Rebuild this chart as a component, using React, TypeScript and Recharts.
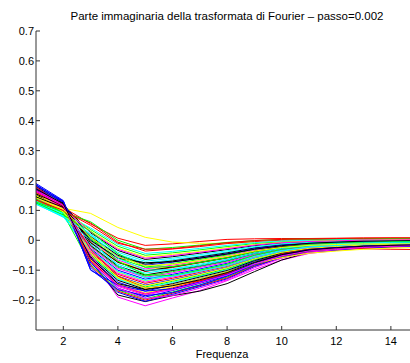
import React from 'react'
import { LineChart, Line, XAxis, YAxis } from 'recharts'

// frequency index on the x axis
const freqs = [1, 2, 3, 4, 5, 6, 7, 8, 9, 10, 11, 12, 13, 14, 15]

const xTicks = [2, 4, 6, 8, 10, 12, 14]
const yTicks = [-0.2, -0.1, 0, 0.1, 0.2, 0.3, 0.4, 0.5, 0.6, 0.7]

// MATLAB default colour cycle: b g r c m y k
const palette = ['#0000ff', '#00ff00', '#ff0000', '#00ffff', '#ff00ff', '#ffff00', '#000000']

// imaginary part, one row per run
const runs: number[][] = [
  [0.150, 0.092, -0.028, -0.100, -0.130, -0.114, -0.096, -0.077, -0.051, -0.033, -0.021, -0.017, -0.012, -0.010, -0.009],
  [0.140, 0.112, 0.004, -0.060, -0.090, -0.078, -0.064, -0.049, -0.031, -0.019, -0.012, -0.008, -0.005, -0.004, -0.003],
  [0.140, 0.110, 0.055, 0.007, -0.017, -0.012, -0.004, 0.003, 0.005, 0.006, 0.006, 0.007, 0.008, 0.008, 0.008],
  [0.128, 0.080, -0.012, -0.080, -0.110, -0.096, -0.080, -0.063, -0.041, -0.026, -0.017, -0.012, -0.009, -0.007, -0.006],
  [0.170, 0.120, -0.060, -0.190, -0.219, -0.193, -0.168, -0.135, -0.098, -0.066, -0.044, -0.034, -0.027, -0.023, -0.020],
  [0.130, 0.107, 0.090, 0.043, 0.010, -0.006, -0.010, -0.010, -0.008, -0.006, -0.004, -0.002, 0.000, 0.001, 0.002],
  [0.180, 0.125, -0.070, -0.183, -0.205, -0.185, -0.170, -0.145, -0.105, -0.066, -0.040, -0.030, -0.024, -0.020, -0.018],
  [0.175, 0.128, -0.060, -0.140, -0.170, -0.150, -0.128, -0.105, -0.071, -0.047, -0.032, -0.025, -0.020, -0.017, -0.015],
  [0.134, 0.100, 0.036, -0.020, -0.050, -0.042, -0.032, -0.021, -0.011, -0.005, -0.002, 0.001, 0.002, 0.003, 0.004],
  [0.148, 0.095, -0.039, -0.114, -0.144, -0.127, -0.107, -0.087, -0.058, -0.037, -0.025, -0.020, -0.015, -0.012, -0.011],
  [0.125, 0.085, 0.015, -0.046, -0.076, -0.065, -0.053, -0.039, -0.024, -0.014, -0.008, -0.005, -0.002, -0.001, 0.000],
  [0.160, 0.100, -0.071, -0.154, -0.184, -0.163, -0.139, -0.115, -0.078, -0.051, -0.035, -0.028, -0.022, -0.019, -0.017],
  [0.150, 0.115, -0.004, -0.070, -0.100, -0.087, -0.072, -0.056, -0.036, -0.022, -0.014, -0.010, -0.007, -0.005, -0.004],
  [0.145, 0.118, 0.025, -0.034, -0.064, -0.055, -0.043, -0.031, -0.018, -0.009, -0.005, -0.002, 0.000, 0.001, 0.001],
  [0.182, 0.131, -0.076, -0.160, -0.190, -0.168, -0.144, -0.119, -0.081, -0.054, -0.037, -0.030, -0.023, -0.020, -0.018],
  [0.142, 0.090, -0.020, -0.090, -0.120, -0.105, -0.088, -0.070, -0.046, -0.029, -0.019, -0.015, -0.011, -0.009, -0.007],
  [0.130, 0.098, 0.058, -0.006, -0.036, -0.029, -0.021, -0.011, -0.004, 0.000, 0.002, 0.004, 0.005, 0.005, 0.006],
  [0.130, 0.082, -0.052, -0.130, -0.160, -0.141, -0.120, -0.098, -0.066, -0.043, -0.029, -0.023, -0.018, -0.015, -0.013],
  [0.155, 0.112, -0.001, -0.066, -0.096, -0.083, -0.069, -0.053, -0.034, -0.021, -0.013, -0.009, -0.006, -0.005, -0.003],
  [0.152, 0.104, -0.033, -0.106, -0.136, -0.119, -0.101, -0.081, -0.054, -0.035, -0.023, -0.018, -0.013, -0.011, -0.009],
  [0.150, 0.120, 0.012, -0.050, -0.080, -0.069, -0.056, -0.042, -0.026, -0.015, -0.009, -0.006, -0.003, -0.002, -0.001],
  [0.172, 0.122, -0.044, -0.120, -0.150, -0.132, -0.112, -0.091, -0.061, -0.040, -0.027, -0.021, -0.016, -0.013, -0.012],
  [0.150, 0.088, -0.081, -0.166, -0.196, -0.173, -0.149, -0.123, -0.084, -0.056, -0.038, -0.031, -0.025, -0.021, -0.018],
  [0.160, 0.116, -0.007, -0.074, -0.104, -0.091, -0.075, -0.059, -0.038, -0.023, -0.015, -0.011, -0.008, -0.006, -0.005],
  [0.124, 0.090, 0.041, -0.014, -0.044, -0.037, -0.027, -0.017, -0.008, -0.002, 0.000, 0.002, 0.004, 0.004, 0.004],
  [0.162, 0.098, -0.036, -0.110, -0.140, -0.123, -0.104, -0.084, -0.056, -0.036, -0.024, -0.019, -0.014, -0.012, -0.010],
  [0.158, 0.106, -0.065, -0.146, -0.176, -0.155, -0.133, -0.109, -0.074, -0.049, -0.033, -0.027, -0.021, -0.018, -0.015],
  [0.160, 0.124, -0.017, -0.086, -0.116, -0.101, -0.085, -0.067, -0.044, -0.028, -0.018, -0.014, -0.010, -0.008, -0.006],
  [0.165, 0.120, 0.009, -0.054, -0.084, -0.073, -0.059, -0.045, -0.028, -0.016, -0.010, -0.007, -0.004, -0.003, -0.002],
  [0.145, 0.094, -0.049, -0.126, -0.156, -0.137, -0.117, -0.095, -0.064, -0.042, -0.028, -0.022, -0.017, -0.014, -0.012],
  [0.178, 0.115, -0.084, -0.170, -0.200, -0.177, -0.152, -0.126, -0.086, -0.057, -0.039, -0.032, -0.026, -0.022, -0.019],
  [0.130, 0.092, 0.020, -0.040, -0.070, -0.060, -0.048, -0.035, -0.021, -0.012, -0.007, -0.004, -0.001, 0.000, 0.001],
  [0.156, 0.108, -0.023, -0.094, -0.124, -0.109, -0.091, -0.073, -0.048, -0.030, -0.020, -0.015, -0.011, -0.009, -0.008],
  [0.136, 0.105, 0.031, -0.026, -0.056, -0.047, -0.037, -0.025, -0.014, -0.007, -0.003, -0.001, 0.001, 0.002, 0.003],
  [0.168, 0.112, -0.055, -0.134, -0.164, -0.145, -0.123, -0.101, -0.068, -0.044, -0.030, -0.024, -0.019, -0.016, -0.014],
  [0.186, 0.128, -0.090, -0.174, -0.204, -0.181, -0.155, -0.129, -0.088, -0.058, -0.040, -0.033, -0.026, -0.022, -0.020],
  [0.128, 0.094, 0.062, 0.000, -0.030, -0.024, -0.016, -0.007, -0.001, 0.003, 0.004, 0.005, 0.006, 0.006, 0.007],
  [0.165, 0.110, -0.068, -0.150, -0.180, -0.159, -0.136, -0.112, -0.076, -0.050, -0.034, -0.027, -0.022, -0.018, -0.016],
  [0.126, 0.078, -0.031, -0.104, -0.134, -0.118, -0.099, -0.080, -0.053, -0.034, -0.023, -0.018, -0.013, -0.011, -0.009],
  [0.140, 0.104, 0.028, -0.030, -0.060, -0.051, -0.040, -0.028, -0.016, -0.008, -0.004, -0.002, 0.001, 0.001, 0.002],
  [0.160, 0.100, -0.046, -0.122, -0.152, -0.134, -0.114, -0.092, -0.062, -0.040, -0.027, -0.021, -0.016, -0.014, -0.012],
  [0.155, 0.117, -0.008, -0.073, -0.103, -0.089, -0.074, -0.058, -0.037, -0.022, -0.015, -0.011, -0.008, -0.006, -0.005],
  [0.185, 0.130, -0.098, -0.165, -0.185, -0.175, -0.150, -0.120, -0.082, -0.052, -0.034, -0.026, -0.020, -0.017, -0.015],
  [0.138, 0.096, 0.010, -0.070, -0.115, -0.118, -0.100, -0.080, -0.050, -0.030, -0.018, -0.013, -0.009, -0.007, -0.006],
  [0.160, 0.118, -0.030, -0.120, -0.160, -0.150, -0.135, -0.110, -0.075, -0.045, -0.030, -0.024, -0.028, -0.030, -0.031],
  [0.122, 0.077, 0.000, -0.085, -0.125, -0.120, -0.104, -0.085, -0.058, -0.036, -0.022, -0.016, -0.012, -0.010, -0.009],
  [0.166, 0.121, -0.050, -0.160, -0.195, -0.185, -0.160, -0.132, -0.092, -0.060, -0.040, -0.031, -0.024, -0.020, -0.018],
  [0.150, 0.095, -0.040, -0.125, -0.160, -0.150, -0.128, -0.105, -0.078, -0.058, -0.043, -0.036, -0.030, -0.026, -0.024],
  [0.145, 0.110, 0.000, -0.060, -0.075, -0.072, -0.060, -0.046, -0.030, -0.018, -0.010, -0.006, -0.003, -0.002, -0.001],
  [0.190, 0.133, -0.100, -0.150, -0.170, -0.162, -0.140, -0.114, -0.076, -0.048, -0.031, -0.024, -0.019, -0.016, -0.014],
  [0.125, 0.085, 0.030, -0.045, -0.090, -0.088, -0.074, -0.058, -0.038, -0.024, -0.014, -0.010, -0.007, -0.005, -0.004],
  [0.135, 0.100, 0.050, -0.010, -0.030, -0.028, -0.018, -0.008, -0.001, 0.003, 0.005, 0.006, 0.007, 0.008, 0.008],
  [0.120, 0.080, 0.020, -0.060, -0.100, -0.098, -0.084, -0.066, -0.044, -0.027, -0.017, -0.012, -0.009, -0.007, -0.006],
  [0.163, 0.116, -0.060, -0.150, -0.178, -0.166, -0.142, -0.116, -0.080, -0.052, -0.035, -0.027, -0.021, -0.018, -0.016],
  [0.142, 0.104, 0.010, -0.055, -0.085, -0.080, -0.068, -0.054, -0.036, -0.024, -0.017, -0.014, -0.012, -0.012, -0.012],
  [0.172, 0.122, -0.060, -0.145, -0.165, -0.152, -0.132, -0.108, -0.074, -0.048, -0.032, -0.025, -0.020, -0.017, -0.015],
]

const data = freqs.map((f, i) => {
  const row: Record<string, number> = { f }
  runs.forEach((r, j) => { row['s' + j] = r[i] })
  return row
})

const FONT = '"Liberation Sans", Arial, Helvetica, sans-serif'
const AXIS = '#333333'

const fmtY = (v: number) => {
  if (Math.abs(v) < 1e-9) return '0'
  const s = Math.abs(v).toFixed(1)
  return v < 0 ? '\u2212' + s : s
}

// MATLAB style ticks point inward
const XTick = (props: any) => {
  const { x, y, payload } = props
  return (
    <g>
      <line x1={x} y1={y} x2={x} y2={y - 4} stroke={AXIS} />
      <text x={x} y={y + 15} textAnchor="middle" fontSize={11} fontFamily={FONT} fill="#000">
        {payload.value}
      </text>
    </g>
  )
}

const YTick = (props: any) => {
  const { x, y, payload } = props
  return (
    <g>
      <line x1={x} y1={y} x2={x + 4} y2={y} stroke={AXIS} />
      <text x={x - 2} y={y + 4} textAnchor="end" fontSize={11} fontFamily={FONT} fill="#000">
        {fmtY(payload.value)}
      </text>
    </g>
  )
}

export default function App() {
  return (
    <div style={{ position: 'absolute', left: 0, top: 0, width: 410, height: 363, background: '#fff', fontFamily: FONT }}>
      <div style={{ position: 'absolute', left: 0, top: 10, width: 410, boxSizing: 'border-box', paddingLeft: 44, textAlign: 'center', fontSize: 11.5, lineHeight: '13px', whiteSpace: 'nowrap' }}>
        Parte immaginaria della trasformata di Fourier – passo=0.002
      </div>
      <LineChart width={410} height={363} data={data} margin={{ top: 31, right: 0, bottom: 0, left: 0 }}>
        <XAxis
          dataKey="f"
          type="number"
          domain={[1, 14.7]}
          allowDataOverflow
          ticks={xTicks}
          height={33}
          tickSize={0}
          tickMargin={0}
          tickLine={false}
          tick={<XTick />}
          stroke={AXIS}
          interval={0}
        />
        <YAxis
          type="number"
          domain={[-0.3, 0.7]}
          allowDataOverflow
          ticks={yTicks}
          width={36}
          tickSize={0}
          tickMargin={0}
          tickLine={false}
          tick={<YTick />}
          stroke={AXIS}
          interval={0}
        />
        {runs.map((_, j) => (
          <Line
            key={j}
            dataKey={'s' + j}
            stroke={palette[j % palette.length]}
            strokeWidth={1}
            dot={false}
            activeDot={false}
            type="linear"
            isAnimationActive={false}
          />
        ))}
      </LineChart>
      <div style={{ position: 'absolute', left: 0, top: 348, width: 410, boxSizing: 'border-box', paddingLeft: 34, textAlign: 'center', fontSize: 11, lineHeight: '13px' }}>
        Frequenza
      </div>
    </div>
  )
}
